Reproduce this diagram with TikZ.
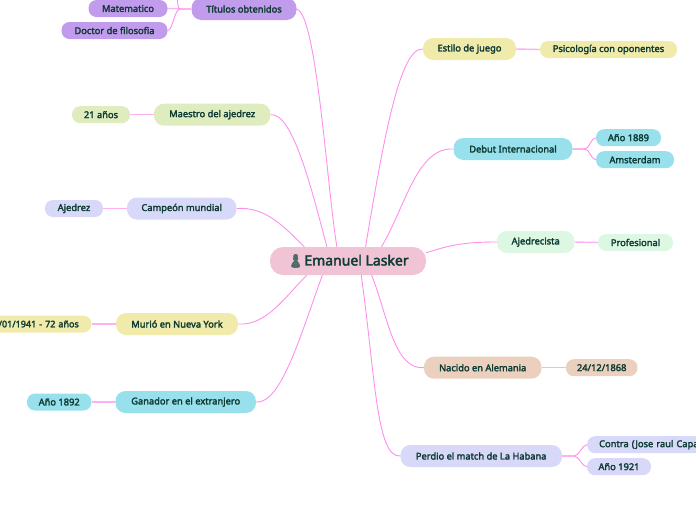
\documentclass[tikz,border=0pt]{standalone}
\usepackage{fontspec}
\setmainfont{Noto Sans}[BoldFont={Noto Sans},BoldFeatures={FakeBold=2.6}]
\newfontfamily\iconfont[FakeBold=4]{Noto Emoji}
\usepackage{xcolor}
\usetikzlibrary{backgrounds}
\definecolor{mmink}{HTML}{0E3B34}
\definecolor{mmline}{HTML}{FF8FEC}
\definecolor{mmlinet}{HTML}{FFB0F2}
\definecolor{mmroot}{HTML}{F0C3D5}
\definecolor{mmpurple}{HTML}{C29CEC}
\definecolor{mmgreen}{HTML}{DFEDBE}
\definecolor{mmlav}{HTML}{D8D8F8}
\definecolor{mmyellow}{HTML}{F0EBAB}
\definecolor{mmcyan}{HTML}{98E0EC}
\definecolor{mmmint}{HTML}{DCF8E2}
\definecolor{mmtan}{HTML}{EBD0BE}
\tikzset{
  topic/.style    = {rounded corners=10pt, align=center, text=mmink, inner sep=0pt,
                     font=\fontsize{9.3}{10}\selectfont\bfseries,
                     minimum height=22pt},
  subtopic/.style = {topic, rounded corners=8pt, minimum height=17pt},
  mainnode/.style = {topic, rounded corners=13pt, fill=mmroot, minimum height=28pt,
                     minimum width=156pt, font=\fontsize{14}{14}\selectfont\bfseries},
  %
  branch/.style   = {draw=mmline, line width=0.9pt},
  twig/.style     = {draw=mmlinet, line width=1.4pt},
}

\begin{document}
\begin{tikzpicture}[x=1pt,y=-1pt]
  \useasboundingbox (0,0) rectangle (696,520);

  % ---------- centre ----------------------------------------------------
  \node[mainnode] (root) at (348,261)
    {{\iconfont\fontsize{13}{14}\selectfont\color{mmink!75!white}\symbol{"265F}}\hspace{0.5pt}Emanuel Lasker};

  % ---------- left side -------------------------------------------------
  \node[topic, fill=mmpurple, minimum width=105pt] (titulos) at (244,9) {Títulos obtenidos};
  \node[subtopic, fill=mmpurple, minimum width=79pt] (mate) at (128,8.5) {Matematico};
  \node[subtopic, fill=mmpurple, minimum width=106pt] (doctor) at (114.5,30.5) {Doctor de filosofia};
  \coordinate (arriba) at (177,-2);

  \node[topic, fill=mmgreen, minimum width=116.5pt] (maestro) at (212.2,114.7) {Maestro del ajedrez};
  \node[subtopic, fill=mmgreen, minimum width=58pt] (edad) at (101,114.7) {21 años};

  \node[topic, fill=mmlav, minimum width=109.5pt] (campeon) at (181.7,208.5) {Campeón mundial};
  \node[subtopic, fill=mmlav, minimum width=58pt] (ajedrez) at (74,208.5) {Ajedrez};

  \node[topic, fill=mmyellow, minimum width=122pt] (murio) at (177,324) {Murió en Nueva York};
  \node[subtopic, fill=mmyellow, anchor=east, inner xsep=12.5pt, text width=100pt, align=right,
        font=\fontsize{9}{10}\selectfont\bfseries] (fecha) at (91.5,324)
    {/01/1941 - 72 años};

  \node[topic, fill=mmcyan, minimum width=140.5pt] (ganador) at (185.7,402) {Ganador en el extranjero};
  \node[subtopic, fill=mmcyan, minimum width=64.5pt] (anoa) at (59.2,402) {Año 1892};

  % ---------- right side ------------------------------------------------
  \node[topic, fill=mmyellow, minimum width=93pt] (estilo) at (469.5,49) {Estilo de juego};
  \node[subtopic, fill=mmyellow, minimum width=137pt] (psico) at (608.5,49.5) {Psicología con oponentes};

  \node[topic, fill=mmcyan, minimum width=119pt] (debut) at (513,149) {Debut Internacional};
  \node[subtopic, fill=mmcyan, minimum width=65pt] (anob) at (628.5,137.7) {Año 1889};
  \node[subtopic, fill=mmcyan, minimum width=78pt] (amster) at (635,159.7) {Amsterdam};

  \node[topic, fill=mmmint, minimum width=77.5pt] (ajedrecista) at (535.7,242) {Ajedrecista};
  \node[subtopic, fill=mmmint, minimum width=75pt] (prof) at (635.5,242.5) {Profesional};

  \node[topic, fill=mmtan, minimum width=117.5pt] (nacido) at (482.7,367.7) {Nacido en Alemania};
  \node[subtopic, fill=mmtan, minimum width=71.5pt] (nac) at (601.7,367.7) {24/12/1868};

  \node[topic, fill=mmlav, minimum width=161.5pt] (perdio) at (481.2,456) {Perdio el match de La Habana};
  \node[subtopic, fill=mmlav, anchor=west, inner xsep=12pt, text width=130pt, align=left] (contra) at (587,444.7)
    {Contra (Jose raul Capa};
  \node[subtopic, fill=mmlav, minimum width=64pt] (anoc) at (619,466.7) {Año 1921};

  % ---------- connectors ------------------------------------------------
  \begin{scope}[on background layer]
    \draw[branch] (root.128) .. controls +(-10,-60) and +(20,5) .. (titulos.east);
    \draw[branch] (root.146) .. controls +(-16,-60) and +(22,-2) .. (maestro.east);
    \draw[branch] (root.162) .. controls +(-22,-22) and +(28,-2) .. (campeon.east);
    \draw[branch] (root.199) .. controls +(-22,22) and +(28,2) .. (murio.east);
    \draw[branch] (root.209) .. controls +(-22,60) and +(25,2) .. (ganador.east);
    \draw[branch] (root.39.5) .. controls +(18,-107) and +(-23,-2) .. (estilo.west);
    \draw[branch] (root.23.6) .. controls +(24,-40) and +(-36.5,-2) .. (debut.west);
    \draw[branch] (root.6.8) .. controls +(22,-7) and +(-35,0) .. (ajedrecista.west);
    \draw[branch] (root.-31.3) .. controls +(16,40) and +(-30,2) .. (nacido.west);
    \draw[branch] (root.-47) .. controls +(14,100) and +(-24,2) .. (perdio.west);
    % twigs
    \draw[twig] (maestro.west) -- (edad.east);
    \draw[twig] (campeon.west) -- (ajedrez.east);
    \draw[twig] (murio.west) -- (fecha.east);
    \draw[twig] (ganador.west) -- (anoa.east);
    \draw[twig] (estilo.east) -- (psico.west);
    \draw[twig] (ajedrecista.east) -- (prof.west);
    \draw[twig] (nacido.east) -- (nac.west);
    \draw[twig] (titulos.west) -- (mate.east);
    \draw[twig] (titulos.west) -- ++(-11,0);
    \draw[branch] (titulos.west) ++(-11,0) .. controls +(-6,0) and +(5,0) .. (doctor.east);
    \draw[branch] (titulos.west) ++(-11,0) .. controls +(-3,0) and +(1,4) .. (arriba);
    \draw[twig] (debut.east) -- ++(12,0);
    \draw[branch] (debut.east) ++(12,0) .. controls +(5,0) and +(-5,0) .. (anob.west);
    \draw[branch] (debut.east) ++(12,0) .. controls +(5,0) and +(-5,0) .. (amster.west);
    \draw[twig] (perdio.east) -- ++(12,0);
    \draw[branch] (perdio.east) ++(12,0) .. controls +(5,0) and +(-5,0) .. (contra.west);
    \draw[branch] (perdio.east) ++(12,0) .. controls +(5,0) and +(-5,0) .. (anoc.west);
  \end{scope}
\end{tikzpicture}
\end{document}
